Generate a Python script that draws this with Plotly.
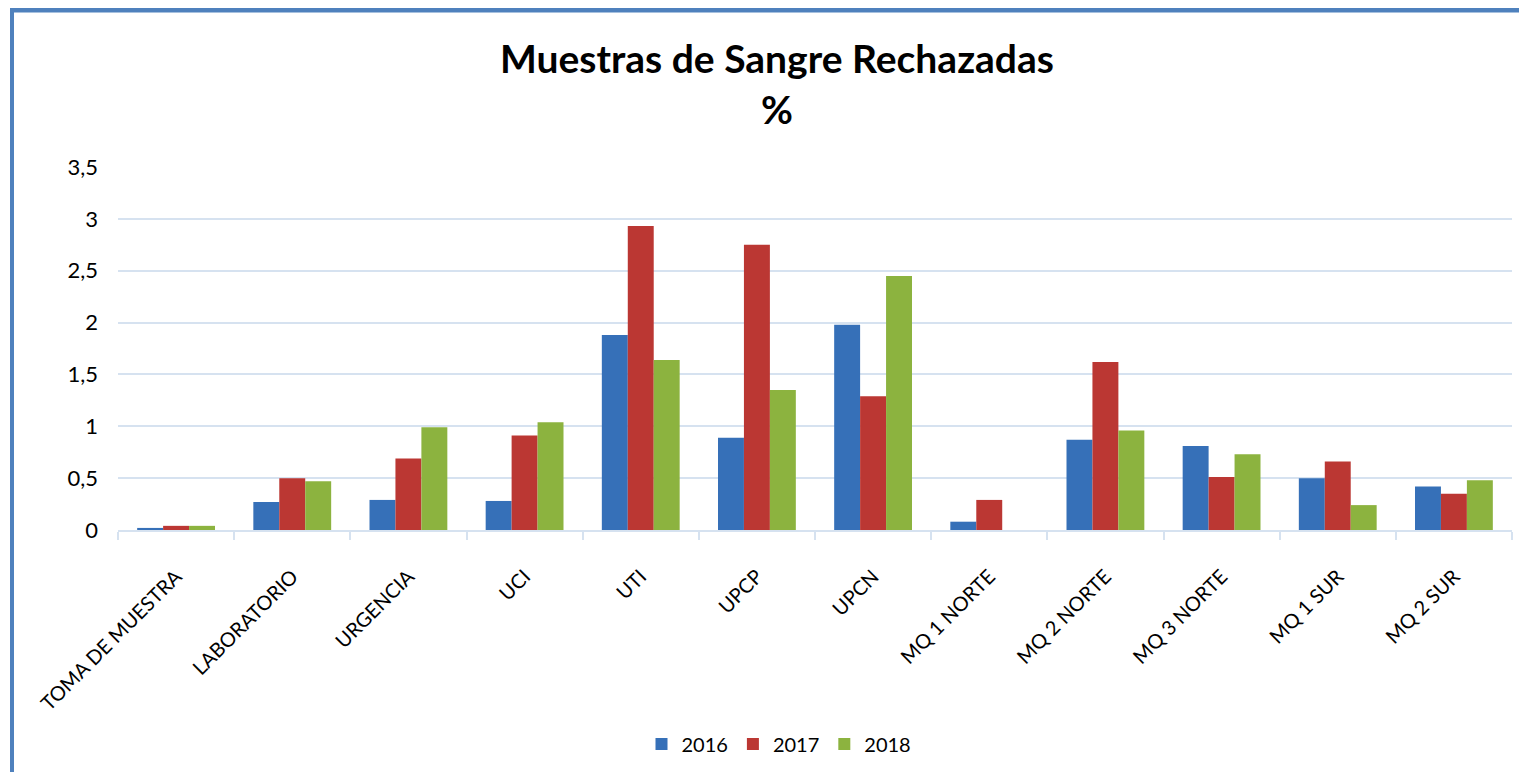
import plotly.graph_objects as go

categories = ["TOMA DE MUESTRA", "LABORATORIO", "URGENCIA", "UCI", "UTI", "UPCP",
              "UPCN", "MQ 1 NORTE", "MQ 2 NORTE", "MQ 3 NORTE", "MQ 1 SUR", "MQ 2 SUR"]
v2016 = [0.02, 0.27, 0.29, 0.28, 1.88, 0.89, 1.98, 0.08, 0.87, 0.81, 0.50, 0.42]
v2017 = [0.04, 0.50, 0.69, 0.91, 2.93, 2.75, 1.29, 0.29, 1.62, 0.51, 0.66, 0.35]
v2018 = [0.04, 0.47, 0.99, 1.04, 1.64, 1.35, 2.45, 0.00, 0.96, 0.73, 0.24, 0.48]
series_names = ["2016", "2017", "2018"]
colors = ["#3670b8", "#bb3733", "#8cb33f"]
y_ticks = [0, 0.5, 1, 1.5, 2, 2.5, 3, 3.5]

# page has an 8px body margin: figure coordinate = page pixel - 8
OFF = 8
W, H = 1519, 764
ml, mr, mt, mb = 118 - OFF, W - (1512 - OFF), 167 - OFF, H - (530 - OFF)
FONT = "Lato, Open Sans, sans-serif"

fig = go.Figure()
for name, vals, col in zip(series_names, [v2016, v2017, v2018], colors):
    fig.add_trace(go.Bar(x=categories, y=vals, name=name,
                         marker=dict(color=col, line=dict(width=0))))

pw = W - ml - mr
ph = H - mt - mb
def px_x(p):
    return (p - OFF - ml) / pw
def px_y(p):
    return (H - mb - (p - OFF)) / ph

frame_col = "#4f81bd"
fig.add_shape(type="line", xref="paper", yref="paper",
              x0=px_x(12), x1=px_x(12), y0=px_y(8), y1=px_y(800),
              line=dict(color=frame_col, width=4))
fig.add_shape(type="line", xref="paper", yref="paper",
              x0=px_x(10), x1=px_x(1524), y0=px_y(10), y1=px_y(10),
              line=dict(color=frame_col, width=5))
fig.add_shape(type="line", xref="paper", yref="paper",
              x0=px_x(1522), x1=px_x(1522), y0=px_y(8), y1=px_y(800),
              line=dict(color=frame_col, width=4))

fig.update_layout(
    width=W, height=H,
    margin=dict(l=ml, r=mr, t=mt, b=mb),
    paper_bgcolor="white", plot_bgcolor="white",
    separators=",.",
    font=dict(family=FONT, color="black"),
    title=dict(text="<b>Muestras de Sangre Rechazadas</b><br><b>%</b>",
               x=(777 - OFF) / W, xref="container", xanchor="center",
               y=1 - 65 / H, yref="container", yanchor="top",
               font=dict(size=39, family=FONT, color="black")),
    barmode="group", bargap=0.33, bargroupgap=0,
    legend=dict(orientation="h", x=(779 - OFF) / W, xref="container", xanchor="center",
                y=1 - (744 - OFF) / H, yref="container", yanchor="middle",
                font=dict(size=20, family=FONT),
                itemwidth=30, traceorder="normal"),
    showlegend=True,
)
fig.update_yaxes(range=[0, 3.5], tickvals=y_ticks, tickformat=".1~f",
                 showgrid=True, gridcolor="#d6e2f0", gridwidth=2,
                 zeroline=False, showline=False, ticks="",
                 ticklabelstandoff=19, automargin=False,
                 tickfont=dict(size=22, family=FONT))
fig.update_xaxes(showline=True, linecolor="#d6e2f0", linewidth=2,
                 ticks="outside", tickson="boundaries", ticklen=8,
                 tickcolor="#d6e2f0", tickwidth=2,
                 tickangle=-45, ticklabelstandoff=25, automargin=False,
                 tickfont=dict(size=20, family=FONT))

fig.write_html("out.html")
